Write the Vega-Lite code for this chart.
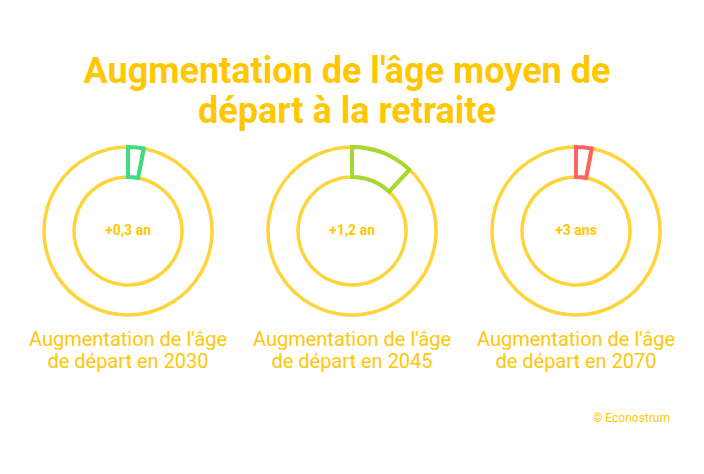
{
  "$schema": "https://vega.github.io/schema/vega-lite/v6.json",
  "background": "white",
  "padding": {"left": 16, "top": 54, "right": 0, "bottom": 0},
  "title": {
    "text": ["Augmentation de l'âge moyen de", "départ à la retraite"],
    "fontSize": 36, "fontWeight": "bold", "font": "Roboto", "color": "#FFC700",
    "lineHeight": 40, "anchor": "middle", "offset": 8, "dx": -5
  },
  "config": {"view": {"stroke": null}, "font": "Roboto"},
  "spacing": 39,
  "vconcat": [
    {
      "hconcat": [
        {
          "width": 224, "height": 180,
          "title": {"text": ["Augmentation de l'âge", "de départ en 2030"], "orient": "bottom", "fontSize": 20, "fontWeight": "normal", "font": "Roboto", "color": "#FFC708", "lineHeight": 22, "offset": 8, "anchor": "middle"},
          "data": {"values": [
            {"segment": "hausse", "part": 0.03, "label": "+0,3 an"},
            {"segment": "reste", "part": 0.97, "label": "+0,3 an"}
          ]},
          "layer": [
            {"mark": {"type": "arc", "outerRadius": 84, "innerRadius": 54, "fill": "transparent", "stroke": "#FFD43B", "strokeWidth": 3.5},
             "encoding": {"theta": {"field": "part", "type": "quantitative", "stack": true}}},
            {"transform": [{"filter": "datum.segment == 'hausse'"}],
             "mark": {"type": "arc", "outerRadius": 84, "innerRadius": 54, "fill": "transparent", "stroke": "#3DDC84", "strokeWidth": 4, "strokeJoin": "miter"},
             "encoding": {"theta": {"field": "part", "type": "quantitative", "stack": true}}},
            {"transform": [{"filter": "datum.segment == 'hausse'"}],
             "mark": {"type": "text", "fontSize": 14, "fontWeight": "bold", "font": "Roboto", "color": "#FFC700", "baseline": "middle", "align": "center"},
             "encoding": {"text": {"field": "label"}}}
          ]
        },
        {
          "width": 224, "height": 180,
          "title": {"text": ["Augmentation de l'âge", "de départ en 2045"], "orient": "bottom", "fontSize": 20, "fontWeight": "normal", "font": "Roboto", "color": "#FFC708", "lineHeight": 22, "offset": 8, "anchor": "middle"},
          "data": {"values": [
            {"segment": "hausse", "part": 0.12, "label": "+1,2 an"},
            {"segment": "reste", "part": 0.88, "label": "+1,2 an"}
          ]},
          "layer": [
            {"mark": {"type": "arc", "outerRadius": 84, "innerRadius": 54, "fill": "transparent", "stroke": "#FFD43B", "strokeWidth": 3.5},
             "encoding": {"theta": {"field": "part", "type": "quantitative", "stack": true}}},
            {"transform": [{"filter": "datum.segment == 'hausse'"}],
             "mark": {"type": "arc", "outerRadius": 84, "innerRadius": 54, "fill": "transparent", "stroke": "#A6D82E", "strokeWidth": 4, "strokeJoin": "miter"},
             "encoding": {"theta": {"field": "part", "type": "quantitative", "stack": true}}},
            {"transform": [{"filter": "datum.segment == 'hausse'"}],
             "mark": {"type": "text", "fontSize": 14, "fontWeight": "bold", "font": "Roboto", "color": "#FFC700", "baseline": "middle", "align": "center"},
             "encoding": {"text": {"field": "label"}}}
          ]
        },
        {
          "width": 224, "height": 180,
          "title": {"text": ["Augmentation de l'âge", "de départ en 2070"], "orient": "bottom", "fontSize": 20, "fontWeight": "normal", "font": "Roboto", "color": "#FFC708", "lineHeight": 22, "offset": 8, "anchor": "middle"},
          "data": {"values": [
            {"segment": "hausse", "part": 0.03, "label": "+3 ans"},
            {"segment": "reste", "part": 0.97, "label": "+3 ans"}
          ]},
          "layer": [
            {"mark": {"type": "arc", "outerRadius": 84, "innerRadius": 54, "fill": "transparent", "stroke": "#FFD43B", "strokeWidth": 3.5},
             "encoding": {"theta": {"field": "part", "type": "quantitative", "stack": true}}},
            {"transform": [{"filter": "datum.segment == 'hausse'"}],
             "mark": {"type": "arc", "outerRadius": 84, "innerRadius": 54, "fill": "transparent", "stroke": "#FF6262", "strokeWidth": 4, "strokeJoin": "miter"},
             "encoding": {"theta": {"field": "part", "type": "quantitative", "stack": true}}},
            {"transform": [{"filter": "datum.segment == 'hausse'"}],
             "mark": {"type": "text", "fontSize": 14, "fontWeight": "bold", "font": "Roboto", "color": "#FFC700", "baseline": "middle", "align": "center"},
             "encoding": {"text": {"field": "label"}}}
          ]
        }
      ],
      "spacing": 0,
      "resolve": {"scale": {"theta": "independent"}}
    },
    {
      "width": 654, "height": 1,
      "title": {"text": "© Econostrum", "orient": "top", "anchor": "end", "fontSize": 12, "fontWeight": "normal", "font": "Roboto", "color": "#FFC708", "offset": 0},
      "data": {"values": [{"credit": "© Econostrum"}]},
      "mark": {"type": "text"},
      "encoding": {}
    }
  ]
}
